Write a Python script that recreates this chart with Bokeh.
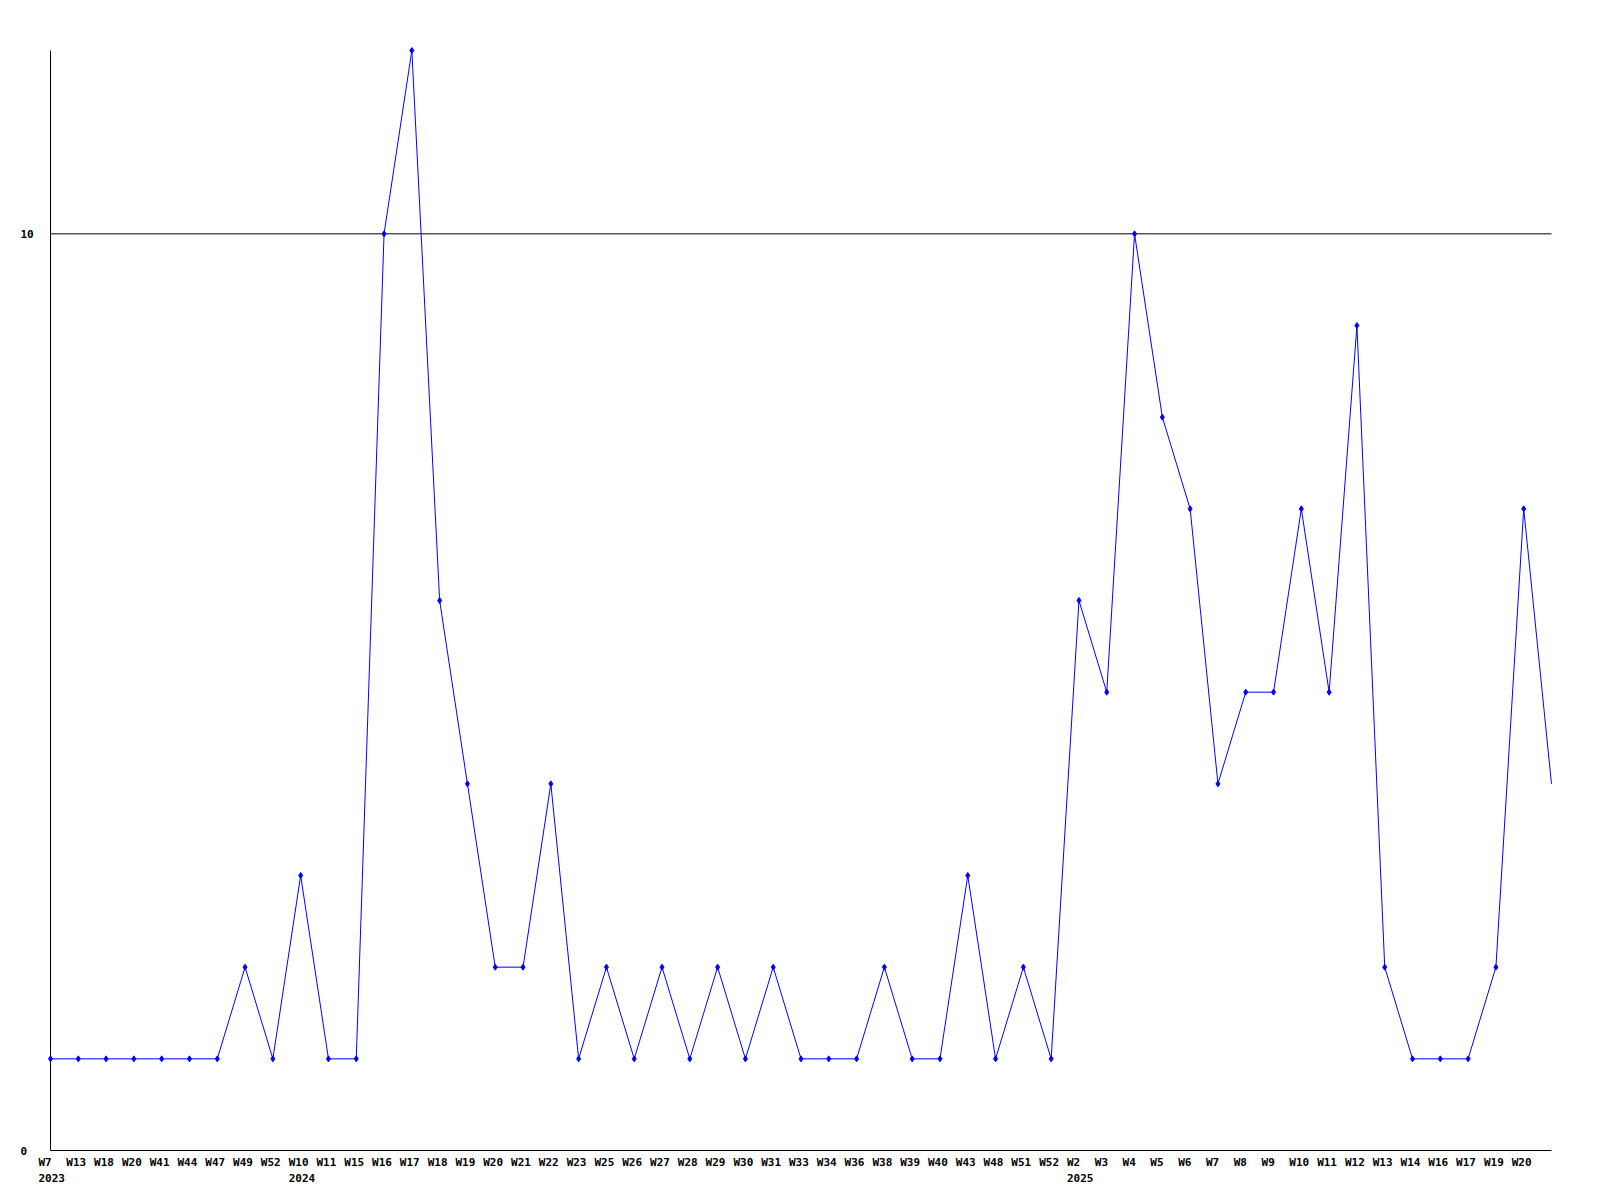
from bokeh.plotting import figure
from bokeh.models import Range1d
from bokeh.embed import file_html
from bokeh.resources import INLINE
from bokeh.core.properties import value

weeks = ["W7", "W13", "W18", "W20", "W41", "W44", "W47", "W49", "W52",
         "W10", "W11", "W15", "W16", "W17", "W18", "W19", "W20", "W21", "W22", "W23",
         "W25", "W26", "W27", "W28", "W29", "W30", "W31", "W33", "W34", "W36", "W38",
         "W39", "W40", "W43", "W48", "W51", "W52",
         "W2", "W3", "W4", "W5", "W6", "W7", "W8", "W9", "W10", "W11", "W12", "W13",
         "W14", "W16", "W17", "W19", "W20", ""]
year_pos = [0, 9, 37]
year_labels = ["2023", "2024", "2025"]
values = [1, 1, 1, 1, 1, 1, 1, 2, 1,
          3, 1, 1, 10, 12, 6, 4, 2, 2, 4, 1,
          2, 1, 2, 1, 2, 1, 2, 1, 1, 1, 2,
          1, 1, 3, 1, 2, 1,
          6, 5, 10, 8, 7, 4, 5, 5, 7, 5, 9, 2,
          1, 1, 1, 2, 7, 4]
y_ticks = [0, 10]
threshold = 10
y_max = 12

n = len(values)
xs = list(range(n))

# page layout (pixels)
W, H = 1584, 1184
fl, fr, ft, fb = 50, 1551, 50, 1150
xu = (fr - fl) / (n - 1)
yu = (fb - ft) / y_max

p = figure(width=W, height=H, output_backend="svg", toolbar_location=None,
           x_range=Range1d(-fl / xu, (n - 1) + (W - fr) / xu),
           y_range=Range1d(-(H - fb) / yu, y_max + ft / yu),
           min_border=0)
p.axis.visible = False
p.grid.visible = False
p.outline_line_color = None
p.background_fill_color = "white"
p.border_fill_color = "white"

# axes and threshold line
p.segment(x0=[0, 0, 0], y0=[0, 0, threshold], x1=[0, n - 1, n - 1], y1=[y_max, 0, threshold],
          line_color="black", line_width=1)

p.line(xs, values, line_color="#0000ff", line_width=1)
p.scatter(xs[:-1], values[:-1], marker="diamond", size=6, color="#0000ff")

font = value("DejaVu Sans Mono")
common = dict(text_font=font, text_font_style="bold", text_font_size="11px",
              text_align="left", text_baseline="middle", text_color="black")
p.text(x=xs, y=[0] * n, text=weeks, x_offset=-12, y_offset=12, **common)
p.text(x=year_pos, y=[0] * len(year_pos), text=year_labels, x_offset=-12, y_offset=27, **common)
p.text(x=[0] * len(y_ticks), y=y_ticks, text=[str(v) for v in y_ticks], x_offset=-30, y_offset=0, **common)

open("out.html", "w").write(file_html(p, INLINE))
